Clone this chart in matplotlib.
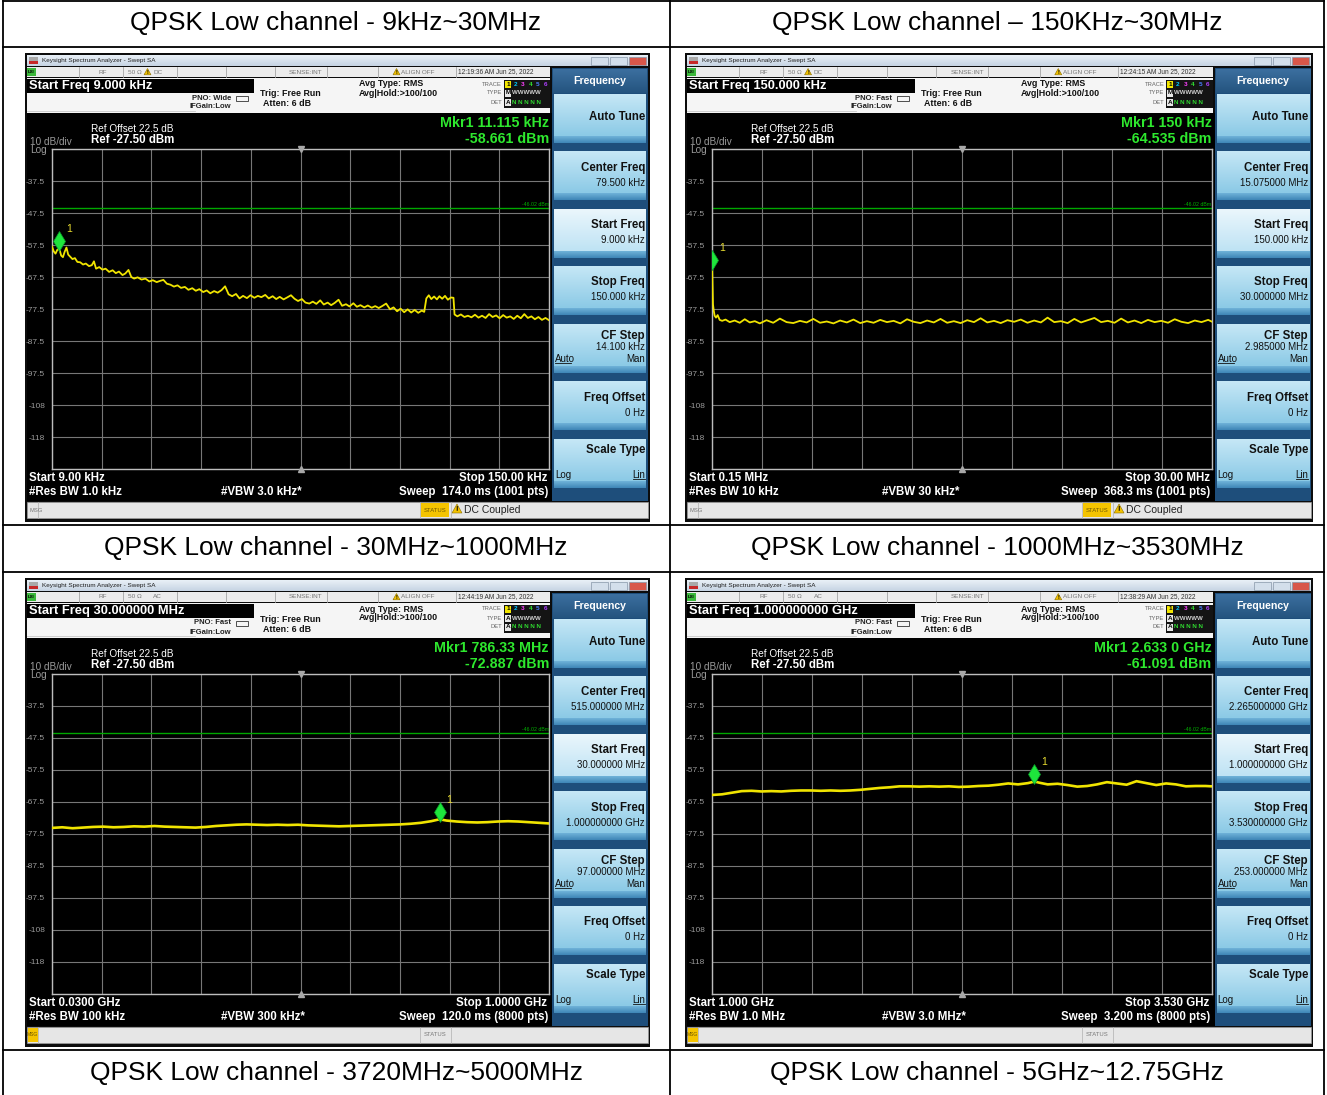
import numpy as np
import matplotlib
matplotlib.use("Agg")
import matplotlib.pyplot as plt
from matplotlib.patches import Rectangle, Polygon
from matplotlib.colors import to_rgb

FONT = ["Liberation Sans", "DejaVu Sans"]
plt.rcParams["font.family"] = FONT

W, H = 1327, 1095

# ---- table text ----
cell_titles = ["QPSK Low channel - 9kHz~30MHz", "QPSK Low channel \u2013 150KHz~30MHz",
               "QPSK Low channel - 30MHz~1000MHz", "QPSK Low channel - 1000MHz~3530MHz",
               "QPSK Low channel - 3720MHz~5000MHz", "QPSK Low channel - 5GHz~12.75GHz"]

# ---- analyzer settings, one entry per screenshot ----
start_freq_box = ["Start Freq 9.000 kHz", "Start Freq 150.000 kHz",
                  "Start Freq 30.000000 MHz", "Start Freq 1.000000000 GHz"]
timestamps = ["12:19:36 AM Jun 25, 2022", "12:24:15 AM Jun 25, 2022",
              "12:44:19 AM Jun 25, 2022", "12:38:29 AM Jun 25, 2022"]
couplings = ["DC", "DC", "AC", "AC"]
pno_modes = ["PNO: Wide", "PNO: Fast", "PNO: Fast", "PNO: Fast"]
trace_types = ["M", "M", "A", "A"]
mkr_freq_text = ["Mkr1 11.115 kHz", "Mkr1 150 kHz", "Mkr1 786.33 MHz", "Mkr1 2.633 0 GHz"]
mkr_level_text = ["-58.661 dBm", "-64.535 dBm", "-72.887 dBm", "-61.091 dBm"]
mkr_x = [11.115, 0.15, 786.33, 2.633]
mkr_y = [-58.661, -64.535, -72.887, -61.091]
center_vals = ["79.500 kHz", "15.075000 MHz", "515.000000 MHz", "2.265000000 GHz"]
start_vals = ["9.000 kHz", "150.000 kHz", "30.000000 MHz", "1.000000000 GHz"]
stop_vals = ["150.000 kHz", "30.000000 MHz", "1.000000000 GHz", "3.530000000 GHz"]
cf_steps = ["14.100 kHz", "2.985000 MHz", "97.000000 MHz", "253.000000 MHz"]
start_labels = ["Start 9.00 kHz", "Start 0.15 MHz", "Start 0.0300 GHz", "Start 1.000 GHz"]
stop_labels = ["Stop 150.00 kHz", "Stop 30.00 MHz", "Stop 1.0000 GHz", "Stop 3.530 GHz"]
rbw_labels = ["#Res BW 1.0 kHz", "#Res BW 10 kHz", "#Res BW 100 kHz", "#Res BW 1.0 MHz"]
vbw_labels = ["#VBW 3.0 kHz*", "#VBW 30 kHz*", "#VBW 300 kHz*", "#VBW 3.0 MHz*"]
sweep_labels = ["Sweep  174.0 ms (1001 pts)", "Sweep  368.3 ms (1001 pts)",
                "Sweep  120.0 ms (8000 pts)", "Sweep  3.200 ms (8000 pts)"]
status_msgs = ["DC Coupled", "DC Coupled", "", ""]
spans = [(9.0, 150.0), (0.15, 30.0), (30.0, 1000.0), (1.0, 3.53)]

limit_dbm = -46.02
y_levels = [-127.5, -117.5, -107.5, -97.5, -87.5, -77.5, -67.5, -57.5, -47.5, -37.5, -27.5]
y_labels = ["", "-118", "-108", "-97.5", "-87.5", "-77.5", "-67.5", "-57.5", "-47.5", "-37.5", ""]

# ---- traces ----
p1_freq_khz = [9.0, 9.5, 10.0, 10.5, 11.1, 11.6, 12.1, 12.6, 13.1, 13.6,
               14.2, 14.8, 15.5, 16.2, 17.0, 17.8, 18.6, 19.5, 20.3, 20.9,
               21.5, 22.4, 23.3, 24.2, 25.2, 26.2, 27.1, 28.0, 29.0, 29.8,
               30.7, 31.5, 32.3, 33.3, 34.4, 35.5, 36.6, 37.6, 38.7, 39.7,
               40.6, 41.6, 42.6, 43.6, 44.6, 45.6, 46.7, 47.7, 48.8, 49.8,
               50.8, 51.9, 52.9, 53.9, 55.0, 56.0, 57.1, 58.1, 59.1, 60.1,
               61.2, 62.2, 63.2, 64.3, 65.3, 66.4, 67.4, 68.4, 69.5, 70.5,
               71.6, 72.6, 73.6, 74.7, 75.7, 76.8, 77.8, 78.8, 79.9, 80.9,
               82.0, 83.0, 84.0, 85.1, 86.1, 87.2, 88.2, 89.2, 90.3, 91.3,
               92.4, 93.4, 94.5, 95.5, 96.5, 97.6, 98.6, 99.7, 100.7, 101.7,
               102.8, 103.8, 104.9, 105.9, 106.9, 107.9, 108.9, 109.9, 110.9, 111.9,
               112.9, 113.9, 114.6, 115.2, 115.9, 116.6, 117.4, 118.2, 118.9, 119.7,
               120.5, 121.3, 122.2, 122.9, 123.2, 124.0, 125.0, 126.0, 127.0, 128.0,
               129.0, 130.0, 131.0, 132.0, 133.0, 134.0, 135.0, 136.0, 137.0, 138.0,
               139.0, 140.0, 141.0, 142.0, 143.0, 144.0, 145.0, 146.0, 147.0, 148.0,
               149.0, 150.0]
p1_level_dbm = [-58.0, -59.5, -60.2, -59.0, -58.7, -60.8, -61.3, -59.6, -58.3, -60.5,
                -61.2, -61.9, -61.6, -62.8, -62.9, -63.6, -63.3, -64.1, -63.8, -62.6,
                -64.9, -64.4, -65.2, -64.9, -65.9, -65.4, -66.3, -65.8, -66.9, -66.4,
                -65.3, -67.5, -68.0, -67.6, -68.3, -68.0, -68.9, -68.5, -69.1, -68.7,
                -68.4, -69.6, -69.9, -70.5, -70.1, -70.9, -70.6, -71.5, -71.0, -71.8,
                -71.3, -72.2, -71.7, -72.6, -71.9, -72.4, -71.6, -70.4, -72.9, -73.5,
                -72.8, -74.2, -73.4, -74.1, -73.2, -74.0, -73.4, -73.8, -73.1, -74.2,
                -73.5, -74.4, -73.7, -74.5, -73.9, -73.2, -74.3, -75.0, -74.4, -75.5,
                -75.8, -75.2, -75.9, -74.8, -76.1, -75.5, -76.3, -75.6, -74.6, -76.5,
                -76.0, -76.7, -75.7, -76.8, -76.3, -77.0, -76.4, -77.1, -76.6, -77.2,
                -76.5, -75.8, -77.6, -77.0, -78.2, -77.4, -78.5, -77.6, -78.6, -77.8,
                -78.7, -78.0, -78.4, -74.2, -73.2, -74.4, -73.6, -74.5, -73.5, -74.3,
                -73.4, -74.6, -73.9, -74.0, -79.2, -79.8, -79.2, -80.0, -79.6, -80.1,
                -79.3, -80.2, -79.6, -80.3, -79.1, -80.0, -79.5, -80.4, -79.4, -80.2,
                -79.8, -80.6, -79.6, -80.4, -79.1, -80.3, -79.8, -80.7, -80.0, -80.9,
                -80.3, -81.0]

p2_freq_mhz = [0.15, 0.17, 0.20, 0.24, 0.30, 0.38, 0.48, 0.60, 0.75, 0.95,
               1.2, 1.5, 1.8, 2.1, 2.4, 2.7, 3.0, 3.4, 3.8, 4.2,
               4.6, 5.0, 5.4, 5.8, 6.2, 6.6, 7.0, 7.4, 7.8, 8.2,
               8.6, 9.0, 9.4, 9.8, 10.2, 10.6, 11.0, 11.4, 11.8, 12.2,
               12.6, 13.0, 13.4, 13.8, 14.2, 14.6, 15.0, 15.4, 15.8, 16.2,
               16.6, 17.0, 17.4, 17.8, 18.2, 18.6, 19.0, 19.4, 19.8, 20.2,
               20.6, 21.0, 21.4, 21.8, 22.2, 22.6, 23.0, 23.4, 23.8, 24.2,
               24.6, 25.0, 25.4, 25.8, 26.2, 26.6, 27.0, 27.4, 27.8, 28.2,
               28.6, 29.0, 29.4, 29.8, 30.0]
p2_level_dbm = [-64.5, -69.0, -76.0, -77.8, -79.6, -80.2, -79.4, -80.9, -81.2, -80.8,
                -81.6, -81.1, -81.8, -80.7, -81.7, -81.3, -82.0, -81.0, -81.8, -80.5,
                -81.6, -81.9, -81.2, -81.7, -80.6, -81.8, -81.4, -82.0, -81.1, -81.7,
                -80.8, -81.9, -81.3, -81.8, -80.9, -81.6, -81.2, -82.0, -80.7, -81.5,
                -81.9, -81.1, -81.7, -80.6, -81.8, -81.3, -81.9, -81.0, -81.6, -80.4,
                -81.7, -81.2, -81.9, -81.0, -81.5, -80.8, -81.8, -81.1, -81.7, -80.2,
                -81.6, -81.3, -81.9, -80.6, -81.7, -81.0, -80.3, -81.6, -81.2, -81.8,
                -80.5, -81.7, -81.1, -81.9, -80.9, -81.6, -81.2, -81.8, -80.7, -81.5,
                -81.9, -81.1, -81.6, -80.9, -81.4]

p3_freq_mhz = [30, 50, 70, 90, 110, 130, 150, 170, 190, 210,
               230, 250, 270, 290, 310, 330, 350, 370, 390, 410,
               430, 450, 470, 490, 510, 530, 550, 570, 590, 610,
               630, 650, 670, 690, 710, 730, 750, 770, 786.33, 800,
               820, 840, 860, 880, 900, 920, 940, 960, 980, 1000]
p3_level_dbm = [-75.6, -75.4, -75.7, -75.5, -75.3, -75.2, -75.4, -75.3, -75.1, -75.2,
                -75.0, -75.2, -75.3, -75.4, -75.5, -75.3, -75.0, -74.8, -74.6, -74.5,
                -74.6, -74.7, -74.6, -74.7, -74.6, -74.8, -74.9, -75.0, -75.1, -75.0,
                -74.9, -74.8, -74.7, -74.6, -74.5, -74.3, -74.0, -73.5, -72.9, -73.3,
                -73.6, -73.8, -73.9, -73.8, -73.6, -73.5, -73.6, -73.8, -74.0, -74.2]

p4_freq_ghz = [1.00, 1.05, 1.10, 1.15, 1.20, 1.25, 1.30, 1.35, 1.40, 1.45,
               1.50, 1.55, 1.60, 1.65, 1.70, 1.75, 1.80, 1.85, 1.90, 1.95,
               2.00, 2.05, 2.10, 2.15, 2.20, 2.25, 2.30, 2.35, 2.40, 2.45,
               2.50, 2.55, 2.60, 2.633, 2.66, 2.70, 2.75, 2.80, 2.85, 2.90,
               2.95, 3.00, 3.05, 3.10, 3.15, 3.20, 3.25, 3.30, 3.35, 3.40,
               3.45, 3.50, 3.53]
p4_level_dbm = [-65.3, -65.1, -64.6, -64.1, -64.0, -64.2, -64.1, -64.2, -64.0, -63.9,
                -63.9, -64.0, -63.9, -64.0, -63.9, -63.7, -63.4, -63.1, -62.9, -62.6,
                -62.6, -62.7, -62.6, -62.7, -62.6, -62.8, -62.7, -62.5, -62.4, -62.1,
                -61.7, -62.0, -61.6, -61.1, -61.5, -62.0, -61.8, -62.2, -62.7, -62.5,
                -62.0, -61.3, -61.7, -62.1, -61.0, -61.6, -62.2, -61.7, -62.0, -62.6,
                -62.5, -62.5, -62.6]

traces = [(p1_freq_khz, p1_level_dbm), (p2_freq_mhz, p2_level_dbm),
          (p3_freq_mhz, p3_level_dbm), (p4_freq_ghz, p4_level_dbm)]

fig = plt.figure(figsize=(W / 100, H / 100), dpi=100)
bg = fig.add_axes([0, 0, 1, 1])
bg.set_xlim(0, W)
bg.set_ylim(H, 0)
bg.set_autoscale_on(False)
bg.axis("off")


def box(x, y, w, h, fc, ec="none", lw=0, z=2):
    bg.add_patch(Rectangle((x, y), w, h, facecolor=fc, edgecolor=ec, linewidth=lw, zorder=z))


def grad(x, y, w, h, c1, c2, z=2):
    t = np.linspace(0, 1, 24)[:, None, None]
    img = np.array(to_rgb(c1)) * (1 - t) + np.array(to_rgb(c2)) * t
    bg.imshow(img, extent=(x, x + w, y + h, y), aspect="auto", zorder=z,
              interpolation="bilinear")


def txt(x, y, s, size, color="black", weight="normal", ha="left", va="center", z=5):
    bg.text(x, y, s, fontsize=size, color=color, fontweight=weight, ha=ha, va=va,
            zorder=z, family=FONT)


def warn(x, y, s=8):
    bg.add_patch(Polygon([(x, y + s * 0.9), (x + s, y + s * 0.9), (x + s / 2, y)],
                         closed=True, facecolor="#f2c200", edgecolor="#8a6d00",
                         linewidth=0.4, zorder=5))
    txt(x + s / 2, y + s * 0.55, "!", s * 0.55, "black", "bold", ha="center")


# ---- table ----
for x in (3, 670, 1324):
    bg.plot([x, x], [1, H], color="black", lw=1.3, zorder=1)
for y in (1, 47, 525, 572, 1050):
    bg.plot([3, 1324], [y, y], color="black", lw=1.3, zorder=1)
for k, title in enumerate(cell_titles):
    cx = 336 if k % 2 == 0 else 997
    cy = [23, 548, 1073][k // 2]
    txt(cx, cy, title, 19, ha="center")

origins = [(25, 53, 625), (685, 53, 628), (25, 578, 625), (685, 578, 628)]


def draw_panel(i, x0, y0, w):
    sx = w / 625.0

    def X(r):
        return x0 + r * sx

    def Y(r):
        return y0 + r

    box(x0, y0, w, 469, "#0c0c0c", z=1)
    # title bar
    grad(X(2), Y(2), w - 4, 11, "#e9f0f7", "#c6d4e3")
    box(X(4), Y(4), 9, 7, "#a9a9a9", z=3)
    box(X(4), Y(8), 9, 3, "#c62828", z=3)
    txt(X(17), Y(7.5), "Keysight Spectrum Analyzer - Swept SA", 4.6, "#202020")
    for k, c in enumerate(["#d3dfeb", "#d3dfeb", "#d8574a"]):
        box(X(566 + k * 19), Y(3.5), 17, 8, c, ec="#8797a8", lw=0.5, z=3)
    # status row
    box(X(2), Y(14), 523 * sx, 10, "#ececec")
    for r in [53.5, 97.6, 151.7, 201, 249.8, 301.5, 353, 430.6]:
        bg.plot([X(r), X(r)], [Y(14), Y(24)], color="#a5a5a5", lw=0.6, zorder=3)
    box(X(2), Y(15), 9, 8, "#3cb83c", z=3)
    txt(X(6.5), Y(19), "LXI", 3.2, "black", "bold", ha="center")
    txt(X(78), Y(19), "RF", 4.6, "#777777", ha="center")
    txt(X(103), Y(19), "50 \u03a9", 4.6, "#777777")
    if couplings[i] == "DC":
        warn(X(119), Y(15.5), 7)
    txt(X(128), Y(19), couplings[i], 4.6, "#777777")
    txt(X(281), Y(19), "SENSE:INT", 4.6, "#777777", ha="center")
    warn(X(368), Y(15.5), 7)
    txt(X(376), Y(19), "ALIGN OFF", 4.6, "#777777")
    txt(X(433), Y(19), timestamps[i], 4.7, "#303030")
    # info area
    box(X(2), Y(25), 523 * sx, 35, "#f5f5f5")
    box(X(2), Y(26), 227 * sx, 14, "black", z=3)
    txt(X(4), Y(33), start_freq_box[i], 9.3, "white", "bold")
    bg.plot([X(2), X(170)], [Y(58), Y(58)], color="#c8c8c8", lw=0.6, zorder=3)
    txt(X(206), Y(45), pno_modes[i], 5.5, "#222222", "bold", ha="right")
    txt(X(206), Y(54), "IFGain:Low", 5.5, "#222222", "bold", ha="right")
    bg.add_patch(Rectangle((X(211), Y(43)), 12, 5, facecolor="none", edgecolor="#333333",
                           linewidth=0.6, zorder=4))
    txt(X(235), Y(41), "Trig: Free Run", 6.4, "#111111", "bold")
    txt(X(238), Y(51), "Atten: 6 dB", 6.4, "#111111", "bold")
    txt(X(334), Y(31), "Avg Type: RMS", 6.4, "#111111", "bold")
    txt(X(334), Y(40), "Avg|Hold:>100/100", 6.4, "#111111", "bold")
    for lab, ry in zip(["TRACE", "TYPE", "DET"], [31, 40, 49]):
        txt(X(477), Y(ry), lab, 4.2, "#666666", ha="right")
    box(X(479), Y(27), 46 * sx, 28, "#141414", z=3)
    nums_c = ["#f2e600", "#00c8ff", "#ff40ff", "#30e030", "#4a7dff", "#b040ff"]
    for k, c in enumerate(nums_c):
        if k == 0:
            box(X(480), Y(27.5), 6, 7, c, z=4)
            txt(X(483), Y(31), "1", 4.6, "black", "bold", ha="center")
        else:
            txt(X(483 + 7.5 * k), Y(31), str(k + 1), 4.6, c, "bold", ha="center")
    box(X(480), Y(36.5), 6, 7, "#e8e8e8", z=4)
    txt(X(483), Y(40), trace_types[i], 4.6, "black", "bold", ha="center")
    txt(X(487), Y(40), "WWWWW", 4.4, "#cfcfcf", "bold")
    box(X(480), Y(45.5), 6, 7, "#e8e8e8", z=4)
    txt(X(483), Y(49), "A", 4.6, "black", "bold", ha="center")
    txt(X(487), Y(49), "N N N N N", 4.4, "#30e030", "bold")
    # display area
    box(X(2), Y(60), 525 * sx, 388, "black")
    txt(X(66), Y(76), "Ref Offset 22.5 dB", 7.2, "white")
    txt(X(66), Y(87), "Ref -27.50 dBm", 8.3, "white", "bold")
    txt(X(5), Y(89), "10 dB/div", 7.2, "#9a9a9a")
    txt(X(5), Y(97), "Log", 7.2, "#9a9a9a")
    txt(X(524), Y(70), mkr_freq_text[i], 10.3, "#2ee82e", "bold", ha="right")
    txt(X(524), Y(86), mkr_level_text[i], 10.3, "#2ee82e", "bold", ha="right")
    txt(X(4), Y(425), start_labels[i], 8.3, "white", "bold")
    txt(X(4), Y(439), rbw_labels[i], 8.3, "white", "bold")
    txt(X(196), Y(439), vbw_labels[i], 8.3, "white", "bold")
    txt(X(522), Y(425), stop_labels[i], 8.3, "white", "bold", ha="right")
    txt(X(523), Y(439), sweep_labels[i], 8.3, "white", "bold", ha="right")
    # bottom status bar
    box(X(2), Y(449), 621 * sx, 16, "#e6e6e6", ec="#9d9d9d", lw=0.5)
    for r in [13, 395, 426]:
        bg.plot([X(r), X(r)], [Y(449), Y(465)], color="#b0b0b0", lw=0.5, zorder=3)
    if status_msgs[i]:
        txt(X(4), Y(457), "MSG", 4.2, "#777777")
        box(X(396), Y(450), 28, 14, "#f5c400", z=3)
        txt(X(410), Y(457), "STATUS", 4.2, "#6b5400", ha="center")
        warn(X(427), Y(451), 10)
        txt(X(439), Y(457), status_msgs[i], 7.5, "#222222")
    else:
        box(X(2.5), Y(450), 10, 14, "#f5c400", z=3)
        txt(X(7.5), Y(457), "MSG", 3.6, "#6b5400", ha="center")
        txt(X(410), Y(457), "STATUS", 4.2, "#777777", ha="center")
    # menu panel
    box(X(527), Y(15), 96 * sx, 433, "#1e4e7b")
    grad(X(528), Y(16), 94 * sx, 24, "#3c6f9f", "#24547f", z=3)
    txt(X(575), Y(28), "Frequency", 7.6, "white", "bold", ha="center")
    for k in range(7):
        top = 40 + 57.5 * k
        if k == 2:
            grad(X(529), Y(top + 1), 92 * sx, 42, "#eaf6fc", "#bfe3f4", z=3)
        else:
            grad(X(529), Y(top + 1), 92 * sx, 42, "#c5e7f6", "#8ccae6", z=3)
        grad(X(529), Y(top + 43), 92 * sx, 7, "#6fb2d8", "#3f86b7", z=3)
    rx = 620
    t0 = [40 + 57.5 * k for k in range(7)]
    txt(X(rx), Y(t0[0] + 24), "Auto Tune", 8.3, "#111111", "bold", ha="right")
    for k, lab, val in [(1, "Center Freq", center_vals[i]), (2, "Start Freq", start_vals[i]),
                        (3, "Stop Freq", stop_vals[i]), (5, "Freq Offset", "0 Hz")]:
        txt(X(rx), Y(t0[k] + 17), lab, 8.3, "#111111", "bold", ha="right")
        txt(X(rx), Y(t0[k] + 32), val, 7.0, "#111111", ha="right")
    txt(X(rx), Y(t0[4] + 13), "CF Step", 8.3, "#111111", "bold", ha="right")
    txt(X(rx), Y(t0[4] + 24), cf_steps[i], 7.0, "#111111", ha="right")
    txt(X(530), Y(t0[4] + 36), "Auto", 7.0, "#111111")
    bg.plot([X(530), X(546)], [Y(t0[4] + 40), Y(t0[4] + 40)], color="#111111", lw=0.6, zorder=5)
    txt(X(rx), Y(t0[4] + 36), "Man", 7.0, "#111111", ha="right")
    txt(X(rx), Y(t0[6] + 12), "Scale Type", 8.3, "#111111", "bold", ha="right")
    txt(X(530), Y(t0[6] + 37), "Log", 7.0, "#111111")
    txt(X(rx), Y(t0[6] + 37), "Lin", 7.0, "#111111", ha="right")
    bg.plot([X(608), X(rx)], [Y(t0[6] + 41), Y(t0[6] + 41)], color="#111111", lw=0.6, zorder=5)

    # spectrum grid
    gl, gr = X(27), X(524)
    gt, gb = Y(96), Y(416)
    ax = fig.add_axes([gl / W, 1 - gb / H, (gr - gl) / W, (gb - gt) / H])
    ax.set_facecolor("black")
    f0, f1 = spans[i]
    ax.set_xlim(f0, f1)
    ax.set_ylim(-127.5, -27.5)
    ax.set_xticks(np.linspace(f0, f1, 11))
    ax.set_yticks(y_levels)
    ax.set_yticklabels(y_labels)
    ax.tick_params(axis="x", length=0, labelbottom=False)
    ax.tick_params(axis="y", length=0, pad=5, labelsize=6, labelcolor="#9a9a9a")
    for lab in ax.get_yticklabels():
        lab.set_family(FONT)
    ax.grid(True, color="#777777", lw=0.8)
    ax.set_axisbelow(True)
    for sp in ax.spines.values():
        sp.set_color("#bdbdbd")
        sp.set_linewidth(1.0)
    ax.axhline(limit_dbm, color="#00a800", lw=1.0)
    ax.text(f1, limit_dbm + 0.5, "-46.02 dBm", ha="right", va="bottom", fontsize=3.8,
            color="#00b000", family=FONT)
    fx, lv = traces[i]
    ax.plot(fx, lv, color="#f0e400", lw=1.3 if i < 2 else 1.9, zorder=3)
    ax.plot([mkr_x[i]], [mkr_y[i] + 2.4], marker="d", ms=10, color="#1ee63c",
            mec="#0b9a2a", mew=0.5, zorder=4)
    ax.annotate("1", (mkr_x[i], mkr_y[i]), xytext=(5, 12), textcoords="offset points",
                color="#e8dc30", fontsize=7.5, family=FONT, zorder=5)
    cx = (f0 + f1) / 2
    ax.plot([cx], [-27.5], marker="v", ms=4, color="#a8a8a8", clip_on=False, zorder=5)
    ax.plot([cx], [-127.5], marker="^", ms=4, color="#a8a8a8", clip_on=False, zorder=5)


for i, (x0, y0, w) in enumerate(origins):
    draw_panel(i, x0, y0, w)

fig.savefig("out.png", dpi=100)
